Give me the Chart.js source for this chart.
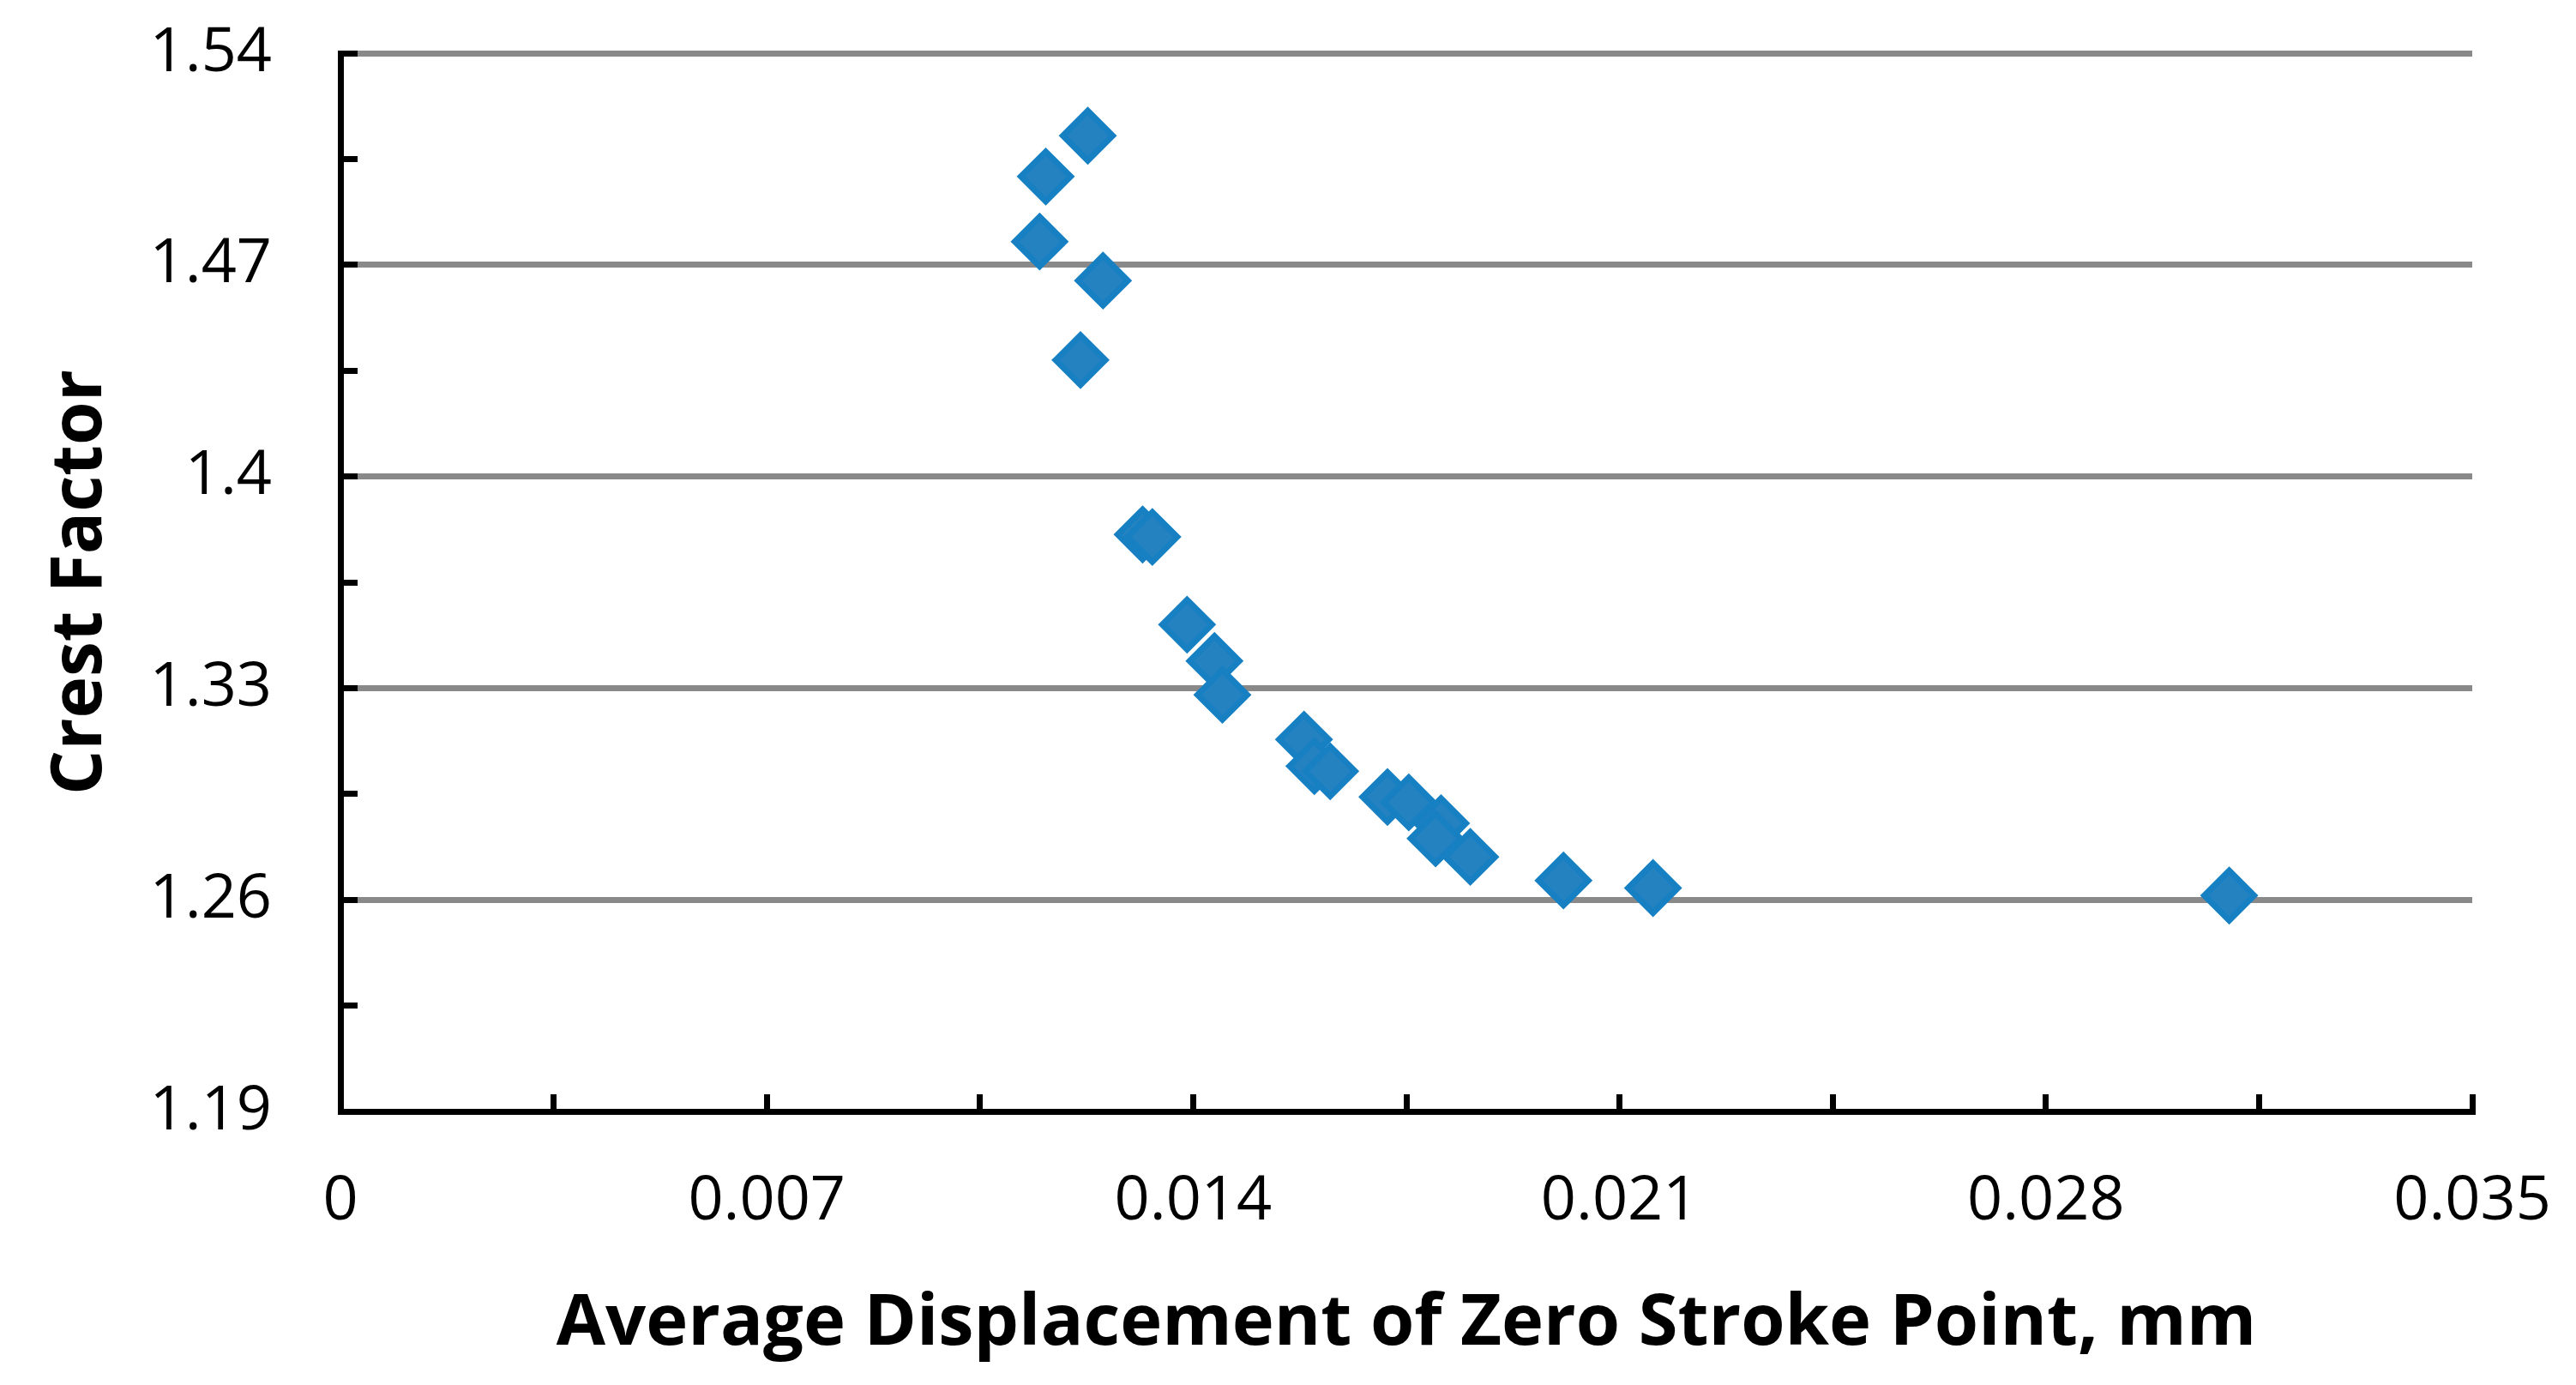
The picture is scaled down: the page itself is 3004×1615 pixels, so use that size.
<!DOCTYPE html>
<html>
<head>
<meta charset="utf-8">
<script src="https://cdn.jsdelivr.net/npm/chart.js@4.4.1/dist/chart.umd.min.js"></script>
<style>
  html, body { margin: 0; padding: 0; background: #fff; }
  #chart { display: block; }
</style>
</head>
<body>
<canvas id="chart" width="3004" height="1615"></canvas>
<script>
// average displacement of zero stroke point, mm
var displacement = [0.01227, 0.01158, 0.01148, 0.01252, 0.01215, 0.01317, 0.01333,
    0.01390, 0.01435, 0.01448, 0.01582, 0.01599, 0.01625, 0.01719, 0.01754,
    0.01807, 0.01798, 0.01855, 0.02008, 0.02155, 0.03101];
// crest factor
var crestFactor = [1.5127, 1.4992, 1.4777, 1.4648, 1.4385, 1.3808, 1.3800,
    1.3510, 1.3390, 1.3278, 1.3130, 1.3042, 1.3025, 1.2940, 1.2922,
    1.2853, 1.2803, 1.2742, 1.2664, 1.2639, 1.2614];

var xMin = 0, xMax = 0.035, xStep = 0.0035;
var yMin = 1.19, yMax = 1.54, yStep = 0.035;

var points = [];
for (var i = 0; i < displacement.length; i++) {
    points.push({x: displacement[i], y: crestFactor[i]});
}

function label(value, index) {
    // only every second tick carries a number
    if (index % 2 !== 0) return '';
    return String(Number(value.toFixed(4)));
}

// keep the plot area where the layout padding puts it
function noOverflow(scale) {
    scale.paddingTop = 0;
    scale.paddingBottom = 0;
    scale.paddingLeft = 0;
    scale.paddingRight = 0;
}

var ctx = document.getElementById('chart').getContext('2d');
new Chart(ctx, {
    type: 'scatter',
    data: {
        datasets: [{
            label: 'Crest Factor',
            data: points,
            pointStyle: 'rectRot',
            pointRadius: 29,
            pointHoverRadius: 29,
            borderWidth: 7,
            backgroundColor: '#2482c1',
            borderColor: '#1780c3'
        }]
    },
    options: {
        responsive: false,
        animation: false,
        devicePixelRatio: 1,
        events: [],
        layout: {
            padding: {top: 62, right: 121, left: 0, bottom: 0}
        },
        plugins: {
            legend: {display: false},
            tooltip: {enabled: false}
        },
        scales: {
            x: {
                type: 'linear',
                min: xMin,
                max: xMax,
                afterFit: function (scale) { scale.height = 319; noOverflow(scale); },
                ticks: {
                    stepSize: xStep,
                    autoSkip: false,
                    maxRotation: 0,
                    padding: 82,
                    color: '#000',
                    font: {family: "'Open Sans'", size: 72},
                    callback: label
                },
                grid: {
                    drawOnChartArea: false,
                    tickLength: -20,
                    tickWidth: 7,
                    tickColor: '#000'
                },
                border: {display: true, color: '#000', width: 7},
                title: {
                    display: true,
                    text: 'Average Displacement of Zero Stroke Point, mm',
                    color: '#000',
                    font: {family: "'Open Sans'", size: 83, weight: 'bold'},
                    padding: {top: 40, bottom: 21}
                }
            },
            y: {
                type: 'linear',
                min: yMin,
                max: yMax,
                afterFit: function (scale) { scale.width = 397; noOverflow(scale); },
                ticks: {
                    stepSize: yStep,
                    autoSkip: false,
                    padding: 100,
                    color: '#000',
                    font: {family: "'Open Sans'", size: 72},
                    callback: label
                },
                grid: {
                    color: function (c) { return c.index % 2 === 0 ? '#898989' : 'rgba(0,0,0,0)'; },
                    lineWidth: 7,
                    tickLength: -20,
                    tickWidth: 7,
                    tickColor: '#000'
                },
                border: {display: true, color: '#000', width: 7},
                title: {
                    display: true,
                    text: 'Crest Factor',
                    color: '#000',
                    font: {family: "'Open Sans'", size: 82, weight: 'bold'},
                    padding: {top: 45, bottom: 0}
                }
            }
        }
    }
});
</script>
</body>
</html>
